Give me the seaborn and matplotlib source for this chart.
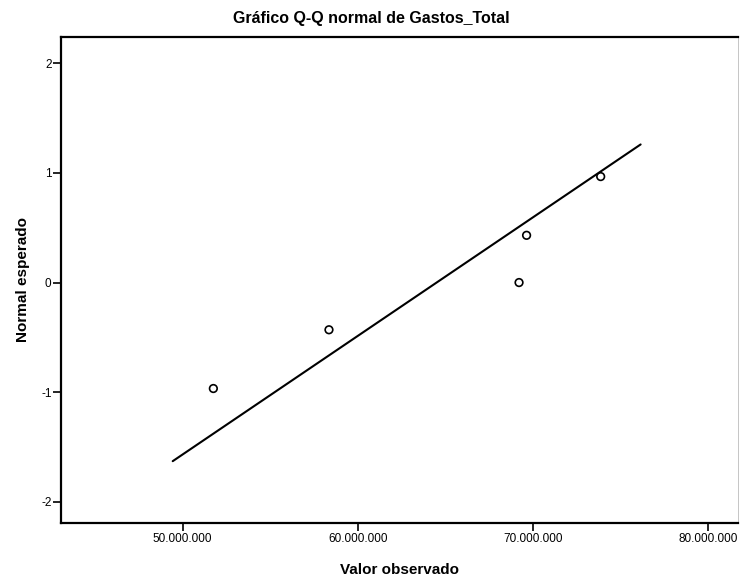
import matplotlib
matplotlib.use("Agg")
import matplotlib.pyplot as plt
import seaborn as sns
import pandas as pd
from matplotlib.ticker import FuncFormatter

observed = [51.75e6, 58.35e6, 69.2e6, 69.63e6, 73.86e6]
expected = [-0.967, -0.431, 0.0, 0.431, 0.967]

# reference line endpoints
line_x = [49.43e6, 76.14e6]
line_y = [-1.63, 1.26]

x_ticks = [50e6, 60e6, 70e6, 80e6]
y_ticks = [-2, -1, 0, 1, 2]

sns.set_theme(style="white")
plt.rcParams['font.family'] = ['Liberation Sans', 'DejaVu Sans']
plt.rcParams['axes.unicode_minus'] = False
plt.rcParams['text.color'] = 'black'
plt.rcParams['axes.labelcolor'] = 'black'
plt.rcParams['xtick.color'] = 'black'
plt.rcParams['ytick.color'] = 'black'

df = pd.DataFrame({'Valor observado': observed, 'Normal esperado': expected})
df_line = pd.DataFrame({'x': line_x, 'y': line_y})

fig = plt.figure(figsize=(7.43, 5.82), dpi=100)
ax = fig.add_axes([0.0825, 0.1014, 0.9108, 0.8355])

sns.lineplot(data=df_line, x='x', y='y', ax=ax, color='black', linewidth=1.5)
sns.scatterplot(data=df, x='Valor observado', y='Normal esperado', ax=ax,
                facecolor='none', edgecolor='black', linewidth=1.2, s=30, zorder=3)

ax.set_xlim(43.07e6, 81.7e6)
ax.set_ylim(-2.194, 2.243)
ax.set_xticks(x_ticks)
ax.set_yticks(y_ticks)
ax.xaxis.set_major_formatter(FuncFormatter(lambda v, p: f"{int(round(v)):,}".replace(',', '.')))

for side in ['left', 'bottom', 'top']:
    ax.spines[side].set_linewidth(1.6)
    ax.spines[side].set_color('black')
ax.spines['right'].set_linewidth(0.6)
ax.spines['right'].set_color('#bbbbbb')

ax.tick_params(axis='both', which='major', direction='out', length=6, width=1.2,
               color='black', labelsize=8.5, bottom=True, left=True, pad=1)

ax.set_xlabel('Valor observado', fontsize=11, fontweight='bold', labelpad=13)
ax.set_ylabel('Normal esperado', fontsize=11, fontweight='bold', labelpad=8)
fig.text(0.5, 1 - 18 / 582, 'Gráfico Q-Q normal de Gastos_Total', fontsize=11.5,
         fontweight='bold', ha='center', va='center')

fig.savefig('out.png', dpi=100)
